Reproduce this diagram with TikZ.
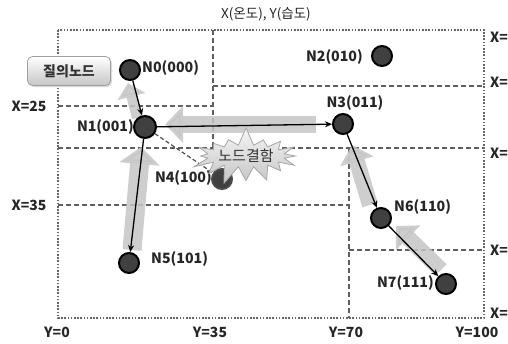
\documentclass[tikz,border=0pt]{standalone}
\usepackage{fontspec}
\setmainfont{Noto Sans CJK KR}
\usetikzlibrary{arrows.meta,shapes.symbols,shadows}

\tikzset{
  zoneline/.style={draw=gray!75!black, line width=1.4pt, dash pattern=on 5pt off 3pt},
  outerline/.style={draw=gray!80!black, line width=2.2pt, dash pattern=on 1.6pt off 1.6pt},
  sensor/.style={circle, minimum size=20pt, inner sep=0pt, fill=gray!50!black, draw=black, line width=2pt},
  lbl/.style={font=\fontsize{14.2}{14.2}\selectfont\bfseries, text=black!85, inner sep=1pt},
  axislbl/.style={font=\fontsize{14}{14}\selectfont\bfseries, text=black!85, inner sep=1pt},
  route/.style={draw=black, line width=1.3pt, -{Stealth[length=7pt,width=6pt]}},
  reply/.style={draw=gray!45, line width=#1, opacity=0.85},
}

\begin{document}
\begin{tikzpicture}[x=1pt,y=-1pt]
\useasboundingbox (0,0) rectangle (508,343);

% zone boundaries
\draw[zoneline] (213,30) -- (213,148);
\draw[zoneline] (58,106) -- (213,106);
\draw[zoneline] (213,86) -- (484,86);
\draw[zoneline] (58,148) -- (484,148);
\draw[zoneline] (58,205) -- (349,205);
\draw[zoneline] (349,148) -- (349,318);
\draw[zoneline] (349,250) -- (484,250);
\draw[outerline] (58,30) rectangle (484,318);

% axis labels
\node[font=\fontsize{13.5}{13.5}\selectfont, text=black!85] (title) at (266,14) {X(온도), Y(습도)};
\node[axislbl] (x25) at (29,106) {X=25};
\node[axislbl] (x35) at (29,205) {X=35};
\node[axislbl] (y0) at (57,332) {Y=0};
\node[axislbl] (y35) at (210,332) {Y=35};
\node[axislbl] (y70) at (346,332) {Y=70};
\node[axislbl] (y100) at (477,332) {Y=100};
\foreach \yy [count=\i] in {37,82,153,250,313}
  \node[axislbl, anchor=east, inner sep=0pt] (xr\i) at (508,\yy) {X=};

% reply path (wide grey arrows)
\draw[reply=10pt, -{Triangle[width=28pt,length=14pt]}] (137,118) -- (128,83);
\draw[reply=17pt, -{Triangle[width=36pt,length=18pt]}] (316,124.5) -- (165,124.5);
\draw[reply=19pt, -{Triangle[width=40pt,length=17pt]}] (132,250) -- (141,147);
\draw[reply=16pt, -{Triangle[width=34pt,length=17pt]}] (370,205) -- (352,145);
\draw[reply=16pt, -{Triangle[width=34pt,length=17pt]}] (441,270) -- (396,226);

% nodes
\node[sensor] (n0) at (130,70) {};
\node[sensor, minimum size=22pt] (n1) at (145,127) {};
\node[sensor] (n2) at (382,56) {};
\node[sensor] (n3) at (343,124) {};
\node[sensor, draw=gray!60!black] (n4) at (222,179) {};
\node[sensor] (n5) at (129,263) {};
\node[sensor] (n6) at (381,218) {};
\node[sensor] (n7) at (446,284) {};

\node[lbl, anchor=west] (l0) at (141,68) {N0(000)};
\node[lbl, anchor=east] (l1) at (135,127) {N1(001)};
\node[lbl, anchor=east] (l2) at (364,57) {N2(010)};
\node[lbl] (l3) at (355,103) {N3(011)};
\node[lbl, anchor=east] (l4) at (213,178) {N4(100)};
\node[lbl, anchor=west] (l5) at (150,259) {N5(101)};
\node[lbl, anchor=west] (l6) at (393,207) {N6(110)};
\node[lbl, anchor=east] (l7) at (435,283) {N7(111)};

% query routing
\draw[route] (n0) -- (n1);
\draw[route] (n1) -- (n3);
\draw[route] (n1) -- (n5);
\draw[route] (n3) -- (n6);
\draw[route] (n6) -- (n7);
\draw[draw=gray!60!black, line width=1.2pt, dash pattern=on 4pt off 2.5pt] (n1) -- (n4);

% failed node marker
\node[starburst, starburst points=16, starburst point height=19pt, random starburst=7,
      minimum width=104pt, minimum height=60pt, inner sep=0pt, draw=gray!70, line width=0.8pt,
      top color=gray!8, bottom color=gray!45,
      font=\fontsize{15}{15}\selectfont, text=black!80] (fault) at (246,156) {노드결함};

% querying node tag
\node[rounded corners=5pt, draw=gray!75, line width=0.8pt, top color=white, bottom color=gray!45,
      drop shadow={opacity=0.3, shadow xshift=1.5pt, shadow yshift=-1.5pt},
      minimum width=83pt, minimum height=29pt,
      font=\fontsize{14}{14}\selectfont\bfseries, text=black!80] (query) at (69,71) {질의노드};
\end{tikzpicture}
\end{document}
